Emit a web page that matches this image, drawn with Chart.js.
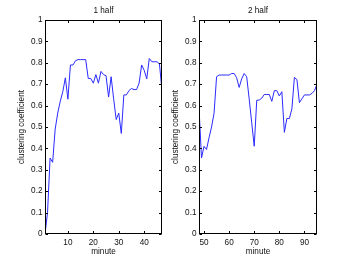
<!DOCTYPE html>
<html>
<head>
<meta charset="utf-8">
<script src="https://cdn.jsdelivr.net/npm/chart.js@4/dist/chart.umd.min.js"></script>
<style>
  html, body { margin: 0; padding: 0; background: #fff; }
  body { width: 350px; height: 264px; position: relative; overflow: hidden; }
  .box { position: absolute; top: 0; height: 264px; }
  #b1 { left: 0; width: 175px; }
  #b2 { left: 154px; width: 176px; }
</style>
</head>
<body>
<div class="box" id="b1"><canvas id="c1"></canvas></div>
<div class="box" id="b2"><canvas id="c2"></canvas></div>
<script>
// ---- data ----
const titles = ['1 half', '2 half'];
const xTitle = 'minute';
const yTitle = 'clustering coefficient';

const minutes1 = [1,2,3,4,5,6,7,8,9,10,11,12,13,14,15,16,17,18,19,20,21,22,23,24,25,26,27,28,29,30,31,32,33,34,35,36,37,38,39,40,41,42,43,44,45,46,47];
const values1 = [0.0,0.10,0.355,0.335,0.49,0.565,0.62,0.665,0.73,0.63,0.79,0.79,0.81,0.815,0.815,0.815,0.815,0.727,0.727,0.705,0.745,0.705,0.76,0.745,0.74,0.64,0.735,0.63,0.535,0.565,0.47,0.65,0.65,0.67,0.68,0.675,0.675,0.705,0.79,0.765,0.725,0.82,0.805,0.805,0.805,0.795,0.67];

const minutes2 = [48,49,50,51,52,53,54,55,56,57,58,59,60,61,62,63,64,65,66,67,68,69,70,71,72,73,74,75,76,77,78,79,80,81,82,83,84,85,86,87,88,89,90,91,92,93,94,95];
const values2 = [0.59,0.355,0.41,0.395,0.45,0.50,0.565,0.735,0.743,0.743,0.743,0.743,0.743,0.75,0.75,0.73,0.685,0.725,0.75,0.735,0.63,0.52,0.41,0.625,0.626,0.635,0.652,0.652,0.652,0.62,0.67,0.67,0.645,0.665,0.475,0.54,0.54,0.585,0.732,0.722,0.614,0.632,0.65,0.65,0.65,0.657,0.67,0.70];

const xTicks1 = [10, 20, 30, 40];
const xTicks2 = [50, 60, 70, 80, 90];
const yTicks = [0, 0.1, 0.2, 0.3, 0.4, 0.5, 0.6, 0.7, 0.8, 0.9, 1];
const yTickLabels = ['0', '0.1', '0.2', '0.3', '0.4', '0.5', '0.6', '0.7', '0.8', '0.9', '1'];
const xRange1 = [1, 47];
const xRange2 = [48, 95];
const yRange = [0, 1];

// ---- styling ----
const FONT = { family: '"Liberation Sans", Arial, Helvetica, sans-serif', size: 8.2 };
const TEXT = '#111';
const LINE = '#2a2aff';

const frame = {
  id: 'frame',
  afterDatasetsDraw(chart) {
    const { ctx, chartArea: a, scales } = chart;
    const L = Math.round(a.left) + 0.5, R = Math.round(a.right) - 0.5;
    const T = Math.round(a.top) + 0.5, B = Math.round(a.bottom) - 0.5;
    const tl = 2.5;
    ctx.save();
    ctx.strokeStyle = '#000';
    ctx.lineWidth = 1;
    ctx.strokeRect(L, T, R - L, B - T);
    ctx.beginPath();
    scales.x.ticks.forEach(t => {
      const p = Math.round(scales.x.getPixelForValue(t.value)) + 0.5;
      ctx.moveTo(p, B); ctx.lineTo(p, B - tl);
      ctx.moveTo(p, T); ctx.lineTo(p, T + tl);
    });
    scales.y.ticks.forEach(t => {
      const p = Math.round(scales.y.getPixelForValue(t.value)) + 0.5;
      ctx.moveTo(L, p); ctx.lineTo(L + tl, p);
      ctx.moveTo(R, p); ctx.lineTo(R - tl, p);
    });
    ctx.stroke();
    ctx.restore();
  }
};

function makeChart(id, title, xs, ys, xTicks, xRange) {
  return new Chart(document.getElementById(id), {
    type: 'line',
    data: {
      datasets: [{
        data: xs.map((m, i) => ({ x: m, y: ys[i] })),
        borderColor: LINE,
        borderWidth: 1,
        pointRadius: 0,
        tension: 0,
        fill: false
      }]
    },
    options: {
      responsive: true,
      maintainAspectRatio: false,
      animation: false,
      events: [],
      layout: { padding: { left: 0, right: 13, top: 0, bottom: 0 } },
      plugins: {
        legend: { display: false },
        tooltip: { enabled: false },
        title: {
          display: true, text: title, color: TEXT, font: { ...FONT, weight: 'normal' },
          fullSize: false, padding: { top: 6, bottom: 4.2 }
        }
      },
      scales: {
        x: {
          type: 'linear', min: xRange[0], max: xRange[1],
          afterBuildTicks: s => { s.ticks = xTicks.map(v => ({ value: v })); },
          afterFit: s => { s.height = 30; },
          grid: { display: false, drawTicks: false },
          border: { display: false },
          ticks: { color: TEXT, font: FONT, padding: 4, maxRotation: 0, autoSkip: false,
                   callback: v => String(v) },
          title: { display: true, text: xTitle, color: TEXT, font: FONT, padding: { top: 0, bottom: 7.3 } }
        },
        y: {
          type: 'linear', min: yRange[0], max: yRange[1],
          afterBuildTicks: s => { s.ticks = yTicks.map(v => ({ value: v })); },
          afterFit: s => { s.width = 45; },
          grid: { display: false, drawTicks: false },
          border: { display: false },
          ticks: { color: TEXT, font: FONT, padding: 2.5, autoSkip: false,
                   callback: (v, i) => yTickLabels[i] },
          title: { display: true, text: yTitle, color: TEXT, font: FONT, padding: { top: 16.7, bottom: 0 } }
        }
      }
    },
    plugins: [frame]
  });
}

makeChart('c1', titles[0], minutes1, values1, xTicks1, xRange1);
makeChart('c2', titles[1], minutes2, values2, xTicks2, xRange2);
</script>
</body>
</html>
